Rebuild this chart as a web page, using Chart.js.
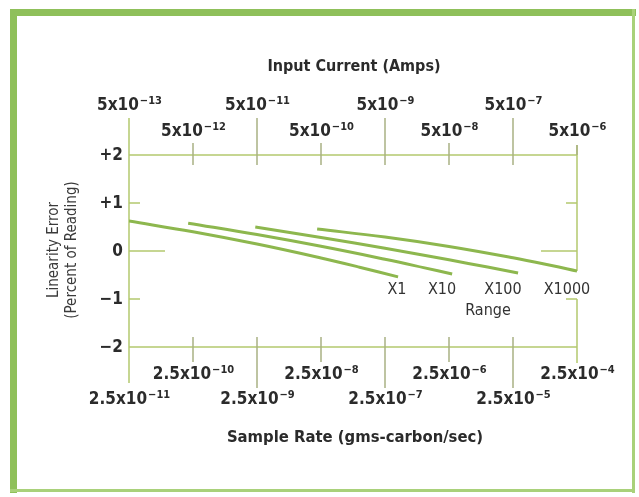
<!DOCTYPE html>
<html>
<head>
<meta charset="utf-8">
<script src="https://cdn.jsdelivr.net/npm/chart.js@4/dist/chart.umd.min.js"></script>
<style>
  html, body { margin: 0; padding: 0; background: #fff; }
  canvas { display: block; }
</style>
</head>
<body>
<canvas id="chart" width="639" height="497"></canvas>
<script>
"use strict";
// input current (Amps) on the top axis, sample rate on the bottom axis
const currentTicks = [5e-13, 5e-12, 5e-11, 5e-10, 5e-9, 5e-8, 5e-7, 5e-6];
const currentExponents = ['−13', '−12', '−11', '−10', '−9', '−8', '−7', '−6'];
const rateTicks = [2.5e-11, 2.5e-10, 2.5e-9, 2.5e-8, 2.5e-7, 2.5e-6, 2.5e-5, 2.5e-4];
const rateExponents = ['−11', '−10', '−9', '−8', '−7', '−6', '−5', '−4'];
const errorTicks = [2, 1, 0, -1, -2];
const errorLabels = ['+2', '+1', '0', '−1', '−2'];

const rangeNames = ['X1', 'X10', 'X100', 'X1000'];
const currentX1 = [5e-13, 5e-12, 5e-11, 5e-10, 2e-9, 8e-9];
const errorX1 = [0.625, 0.40, 0.144, -0.146, -0.337, -0.54];
const currentX10 = [4.2e-12, 5e-11, 5e-10, 5e-9, 2e-8, 5.6e-8];
const errorX10 = [0.58, 0.342, 0.097, -0.172, -0.346, -0.48];
const currentX100 = [4.7e-11, 5e-10, 5e-9, 5e-8, 2e-7, 6e-7];
const errorX100 = [0.50, 0.281, 0.056, -0.184, -0.335, -0.458];
const currentX1000 = [4.35e-10, 5e-9, 5e-8, 5e-7, 2e-6, 5e-6];
const errorX1000 = [0.458, 0.291, 0.094, -0.142, -0.303, -0.417];

const GREEN = '#8db74e';
const AXIS = '#b3c96e';
const TICK = '#a9b083';
const INK = '#2b2b2b';
const NARROW = '"Liberation Sans Narrow", "DejaVu Sans Condensed", sans-serif';
const BOLD = 'bold 17px ' + NARROW;
const BOLD_SUP = 'bold 11px ' + NARROW;

const toPoints = (xs, ys) => xs.map((x, i) => ({ x: x, y: ys[i] }));
const seriesX = [currentX1, currentX10, currentX100, currentX1000];
const seriesY = [errorX1, errorX10, errorX100, errorX1000];

const drawExp = (ctx, x, y, mantissa, exp) => {
    ctx.font = BOLD;
    const w1 = ctx.measureText(mantissa).width;
    ctx.font = BOLD_SUP;
    const w2 = ctx.measureText(exp).width;
    const start = x - (w1 + w2) / 2;
    ctx.textAlign = 'left';
    ctx.textBaseline = 'alphabetic';
    ctx.font = BOLD;
    ctx.fillText(mantissa, start, y);
    ctx.font = BOLD_SUP;
    ctx.fillText(exp, start + w1 + 1, y - 6);
};

const line = (ctx, x1, y1, x2, y2) => {
    ctx.beginPath();
    ctx.moveTo(x1, y1);
    ctx.lineTo(x2, y2);
    ctx.stroke();
};

const decorations = {
    id: 'decorations',
    beforeDatasetsDraw(chart) {
        const ctx = chart.ctx;
        const xs = chart.scales.x;
        const xr = chart.scales.rate;
        const ys = chart.scales.y;
        const L = xs.getPixelForValue(currentTicks[0]);
        const R = xs.getPixelForValue(currentTicks[currentTicks.length - 1]);
        const T = ys.getPixelForValue(2);
        const B = ys.getPixelForValue(-2);
        ctx.save();

        // page frame
        ctx.fillStyle = '#8fc05a';
        ctx.fillRect(10, 9, 626, 7);
        ctx.fillRect(10, 9, 7, 484);
        ctx.fillStyle = '#a9d17a';
        ctx.fillRect(632, 9, 3, 484);
        ctx.fillRect(10, 489, 625, 3);

        // plot frame
        ctx.strokeStyle = AXIS;
        ctx.lineWidth = 1.5;
        line(ctx, L, T, R, T);
        line(ctx, L, B, R, B);
        line(ctx, L, T - 37, L, B + 36);
        line(ctx, R, T - 10, R, ys.getPixelForValue(errorX1000[errorX1000.length - 1]));
        line(ctx, R, ys.getPixelForValue(-1), R, B + 16);

        // y ticks
        errorTicks.forEach(v => {
            if (Math.abs(v) === 2) return;
            const y = ys.getPixelForValue(v);
            const len = v === 0 ? 36 : 11;
            line(ctx, L, y, L + len, y);
            line(ctx, R - len, y, R, y);
        });

        // top ticks and labels
        ctx.fillStyle = INK;
        currentTicks.forEach((v, i) => {
            const x = xs.getPixelForValue(v);
            ctx.strokeStyle = TICK;
            if (i > 0 && i < currentTicks.length - 1) {
                line(ctx, x, i % 2 === 0 ? T - 37 : T - 12, x, T + 10);
            } else if (i === currentTicks.length - 1) {
                line(ctx, x, T - 10, x, T);
            }
            drawExp(ctx, x, i % 2 === 0 ? 110 : 136, '5x10', currentExponents[i]);
        });

        // bottom ticks and labels
        rateTicks.forEach((v, i) => {
            const x = xr.getPixelForValue(v);
            ctx.strokeStyle = TICK;
            if (i > 0 && i < rateTicks.length - 1) {
                line(ctx, x, B - 10, x, i % 2 === 0 ? B + 41 : B + 15);
            }
            drawExp(ctx, x, i % 2 === 0 ? 404 : 379, '2.5x10', rateExponents[i]);
        });

        // y tick labels
        ctx.font = BOLD;
        ctx.textAlign = 'right';
        ctx.textBaseline = 'middle';
        errorTicks.forEach((v, i) => {
            ctx.fillText(errorLabels[i], 123, ys.getPixelForValue(v) + 1);
        });

        // titles
        ctx.textAlign = 'center';
        ctx.font = 'bold 16px ' + NARROW;
        ctx.fillText('Input Current (Amps)', 354, 67);
        ctx.font = 'bold 16.5px ' + NARROW;
        ctx.fillText('Sample Rate (gms-carbon/sec)', 355, 438);

        ctx.save();
        ctx.translate(62, 250);
        ctx.rotate(-Math.PI / 2);
        ctx.fillStyle = '#3a3a3a';
        ctx.font = '15px ' + NARROW;
        ctx.fillText('Linearity Error', 0, -8);
        ctx.fillText('(Percent of Reading)', 0, 10);
        ctx.restore();

        // range labels under the curve ends
        ctx.font = '16px "DejaVu Sans Condensed", "Liberation Sans", sans-serif';
        ctx.fillStyle = '#333';
        const labelX = [397, 442, 503, 567];
        rangeNames.forEach((name, i) => {
            ctx.fillText(name, labelX[i], 290);
        });
        ctx.fillText('Range', 488, 311);
        ctx.restore();
    }
};

new Chart(document.getElementById('chart'), {
    type: 'line',
    data: {
        datasets: rangeNames.map((name, i) => ({
            label: name,
            data: toPoints(seriesX[i], seriesY[i]),
            borderColor: GREEN,
            borderWidth: 3,
            pointRadius: 0,
            tension: 0.4,
            fill: false,
        })),
    },
    options: {
        responsive: false,
        animation: false,
        devicePixelRatio: 1,
        layout: { padding: { left: 129, right: 62, top: 155, bottom: 150 } },
        plugins: { legend: { display: false }, tooltip: { enabled: false } },
        scales: {
            x: { type: 'logarithmic', min: currentTicks[0], max: currentTicks[currentTicks.length - 1], display: false },
            rate: { type: 'logarithmic', axis: 'x', min: rateTicks[0], max: rateTicks[rateTicks.length - 1], display: false },
            y: { type: 'linear', min: -2, max: 2, display: false },
        },
    },
    plugins: [decorations],
});
</script>
</body>
</html>
